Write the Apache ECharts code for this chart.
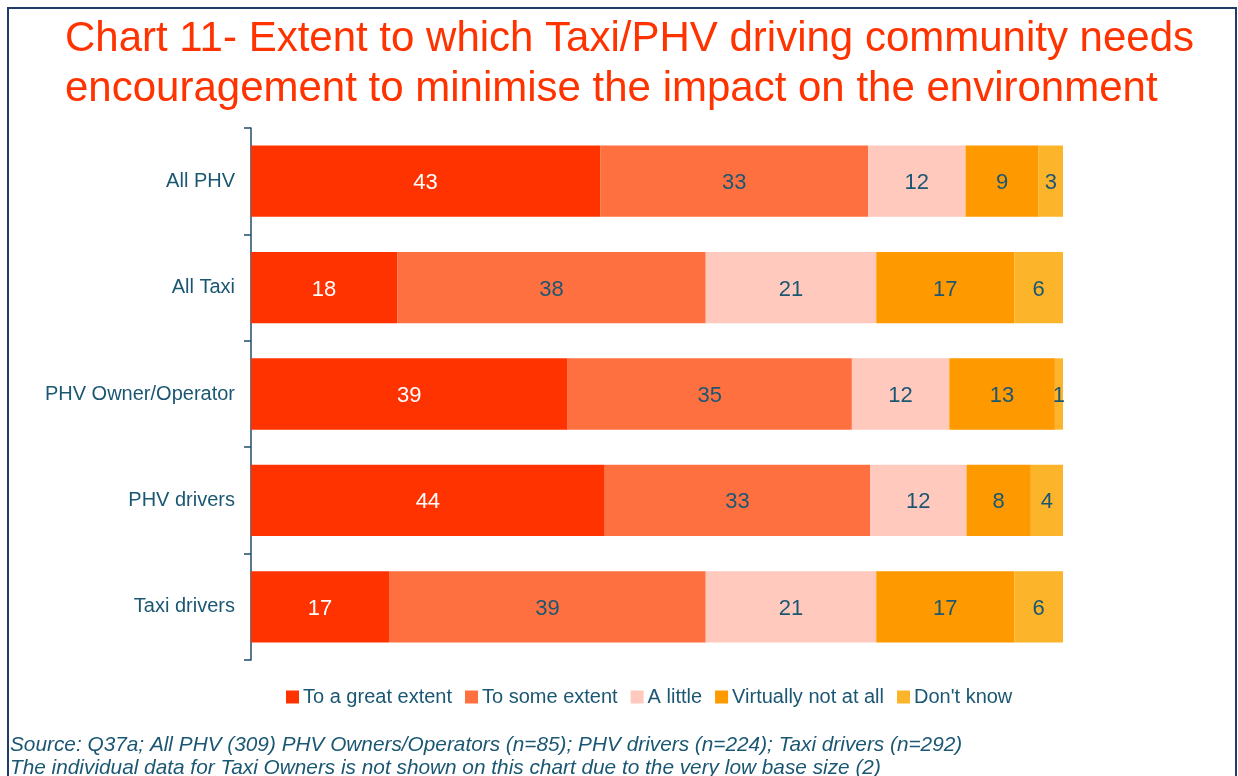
<!DOCTYPE html>
<html>
<head>
<meta charset="utf-8">
<script src="https://cdn.jsdelivr.net/npm/echarts@6/dist/echarts.min.js"></script>
<style>
html, body { margin: 0; padding: 0; background: #fff; }
#main { width: 1238px; height: 776px; }
</style>
</head>
<body>
<div id="main"></div>
<script>
// 类别
var categories = ['All PHV', 'All Taxi', 'PHV Owner/Operator', 'PHV drivers', 'Taxi drivers'];
var seriesNames = ['To a great extent', 'To some extent', 'A little', 'Virtually not at all', "Don't know"];
var greatExtent = [43, 18, 39, 44, 17];
var someExtent = [33, 38, 35, 33, 39];
var aLittle = [12, 21, 12, 12, 21];
var notAtAll = [9, 17, 13, 8, 17];
var dontKnow = [3, 6, 1, 4, 6];
var colors = ['#ff3300', '#ff7041', '#ffc9bd', '#ff9900', '#fcb42b'];

var values = [greatExtent, someExtent, aLittle, notAtAll, dontKnow];
var textColor = '#1b5773';
var font = 'Liberation Sans, Arial, sans-serif';

// 每行合计（rounded data may not add to exactly 100）
var totals = categories.map(function (c, j) {
    var s = 0;
    for (var i = 0; i < values.length; i++) s += values[i][j];
    return s;
});

var series = [];
for (var i = 0; i < seriesNames.length; i++) {
    series.push({
        name: seriesNames[i],
        type: 'bar',
        stack: 'total',
        barWidth: '67%',
        itemStyle: { color: colors[i] },
        label: {
            show: true,
            position: 'inside',
            offset: [0, 2],
            color: i == 0 ? '#ffffff' : textColor,
            fontSize: 22,
            fontFamily: font,
            formatter: function (p) { return p.data.raw; }
        },
        data: values[i].map(function (v, j) {
            return { value: v / totals[j] * 100, raw: v };
        })
    });
}

var myChart = echarts.init(document.getElementById('main'));
var option = {
    backgroundColor: '#ffffff',
    animation: false,
    graphic: [
        {
            type: 'rect',
            shape: { x: 8, y: 8, width: 1228, height: 800 },
            style: { fill: 'none', stroke: '#1f3b66', lineWidth: 2 }
        },
        {
            type: 'text',
            left: 65,
            top: 14,
            style: {
                text: 'Chart 11- Extent to which Taxi/PHV driving community needs\nencouragement to minimise the impact on the environment',
                fill: '#ff3300',
                font: '42px ' + font,
                lineHeight: 50
            }
        },
        {
            type: 'text',
            left: 10,
            top: 734,
            style: {
                text: 'Source: Q37a; All PHV (309) PHV Owners/Operators (n=85); PHV drivers (n=224); Taxi drivers (n=292)\nThe individual data for Taxi Owners is not shown on this chart due to the very low base size (2)',
                fill: textColor,
                font: 'italic 20.8px ' + font,
                lineHeight: 23
            }
        }
    ],
    legend: {
        data: seriesNames,
        left: 281,
        top: 682,
        icon: 'rect',
        itemWidth: 13,
        itemHeight: 13,
        itemGap: 13,
        textStyle: { color: textColor, fontSize: 20, fontFamily: font, padding: [0, 0, 0, -1] }
    },
    grid: { left: 251, right: 175, top: 128, bottom: 116, containLabel: false },
    xAxis: {
        type: 'value',
        min: 0,
        max: 100,
        show: false
    },
    yAxis: {
        type: 'category',
        inverse: true,
        data: categories,
        axisLine: { show: true, lineStyle: { color: '#1f4e6b', width: 1.5 } },
        axisTick: { show: true, length: 7, lineStyle: { color: '#1f4e6b', width: 1.5 } },
        axisLabel: { color: textColor, fontSize: 20, fontFamily: font, margin: 16, padding: [4, 0, 0, 0] }
    },
    series: series
};
myChart.setOption(option);
</script>
</body>
</html>
